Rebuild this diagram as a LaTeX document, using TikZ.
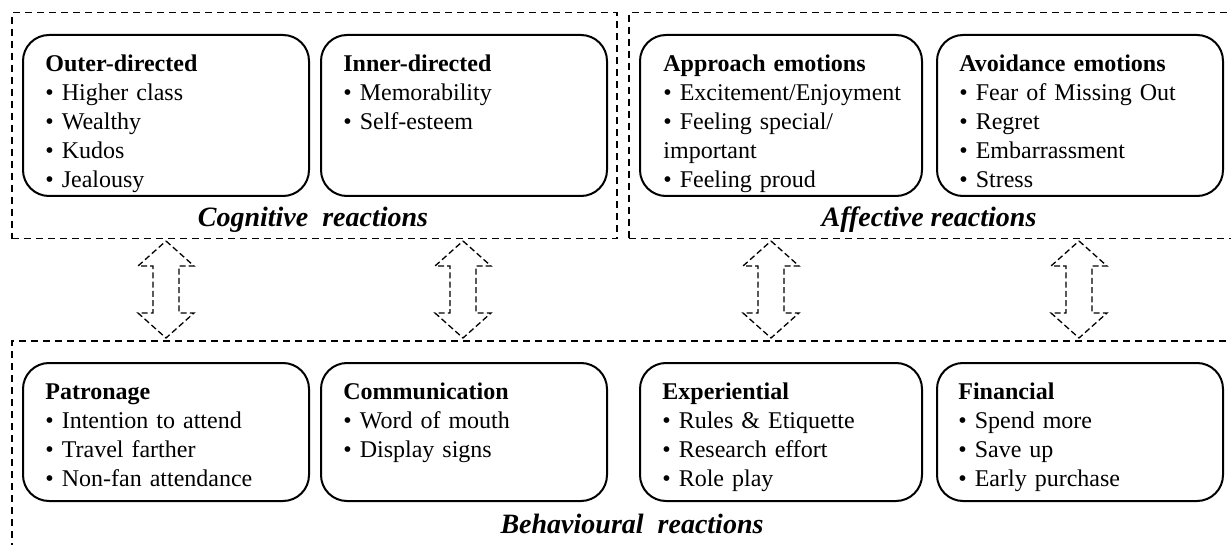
\documentclass[tikz,border=0pt]{standalone}
\usepackage{fontspec}
\setmainfont{Liberation Serif}
\usetikzlibrary{calc}

\tikzset{
  groupframe/.style={draw, dash pattern=on 3.5pt off 2.5pt, line width=0.75pt, inner sep=0pt, anchor=north west},
  panel/.style={draw, line width=1pt, rounded corners=13pt, minimum width=143pt, inner sep=0pt, anchor=north west},
  itemlist/.style={anchor=base west, inner sep=0pt, text width=135pt, align=left, font=\fontsize{12}{14.5}\selectfont},
  groupcap/.style={anchor=base, inner sep=0pt, font=\fontsize{14}{16}\selectfont\bfseries\itshape},
  biarrow/.pic={\draw[line width=0.65pt, dash pattern=on 3pt off 1.6pt, line join=miter]
    (0,0) -- (28,25) -- (13,25) -- (13,72) -- (28,72) -- (0,97) -- (-28,72) -- (-13,72) -- (-13,25) -- (-28,25) -- cycle;}
}

\begin{document}
\begin{tikzpicture}[x=0.5pt, y=-0.5pt, line cap=butt]
\clip (0,0) rectangle (1231,545);
\coordinate (T1) at (166,241);
\coordinate (T2) at (463,241);
\coordinate (T3) at (771,241);
\coordinate (T4) at (1079,241);
% dashed groups
\node[groupframe, minimum width=302.5pt, minimum height=113pt] (cogframe) at (11,12) {};
\node[groupframe, minimum width=306pt, minimum height=113pt] (affframe) at (628,12) {};
\node[groupframe, minimum width=614.5pt, minimum height=110pt] (behframe) at (11,340) {};
% top row
\node[panel, minimum height=80.5pt] (outer) at (22,34) {};
\node[panel, minimum height=80.5pt] (inner) at (320,34) {};
\node[panel, minimum height=80.5pt, minimum width=141pt] (approach) at (639,34) {};
\node[panel, minimum height=80.5pt] (avoid) at (936,34) {};
% bottom row
\node[panel, minimum height=69pt] (patron) at (22,362) {};
\node[panel, minimum height=69pt] (commun) at (320,362) {};
\node[panel, minimum height=69pt, minimum width=141pt] (experi) at (639,362) {};
\node[panel, minimum height=69pt] (financ) at (936,362) {};
\node[itemlist] (outertxt) at ($(outer.north west)+(23,38)$) {\textbf{Outer-directed}\\ \textbullet\ Higher class\\ \textbullet\ Wealthy\\ \textbullet\ Kudos\\ \textbullet\ Jealousy};
\node[itemlist] (innertxt) at ($(inner.north west)+(23,38)$) {\textbf{Inner-directed}\\ \textbullet\ Memorability\\ \textbullet\ Self-esteem};
\node[itemlist] (approachtxt) at ($(approach.north west)+(24,38)$) {\textbf{Approach emotions}\\ \textbullet\ Excitement/Enjoyment\\ \textbullet\ Feeling special/\\ important\\ \textbullet\ Feeling proud};
\node[itemlist] (avoidtxt) at ($(avoid.north west)+(23,38)$) {\textbf{Avoidance emotions}\\ \textbullet\ Fear of Missing Out\\ \textbullet\ Regret\\ \textbullet\ Embarrassment\\ \textbullet\ Stress};
\node[itemlist] (patrontxt) at ($(patron.north west)+(23,37)$) {\textbf{Patronage}\\ \textbullet\ Intention to attend\\ \textbullet\ Travel farther\\ \textbullet\ Non-fan attendance};
\node[itemlist] (communtxt) at ($(commun.north west)+(23,37)$) {\textbf{Communication}\\ \textbullet\ Word of mouth\\ \textbullet\ Display signs};
\node[itemlist] (experitxt) at ($(experi.north west)+(23,37)$) {\textbf{Experiential}\\ \textbullet\ Rules \& Etiquette\\ \textbullet\ Research effort\\ \textbullet\ Role play};
\node[itemlist] (financtxt) at ($(financ.north west)+(22,37)$) {\textbf{Financial}\\ \textbullet\ Spend more\\ \textbullet\ Save up\\ \textbullet\ Early purchase};
\node[groupcap] (cogcap) at (313,227) {Cognitive\ \ reactions};
\node[groupcap] (affcap) at (929,227) {Affective reactions};
\node[groupcap] (behcap) at (632,533) {Behavioural\ \ reactions};
% links between groups
\foreach \t in {T1,T2,T3,T4}
  \pic at (\t) {biarrow};
\end{tikzpicture}
\end{document}
